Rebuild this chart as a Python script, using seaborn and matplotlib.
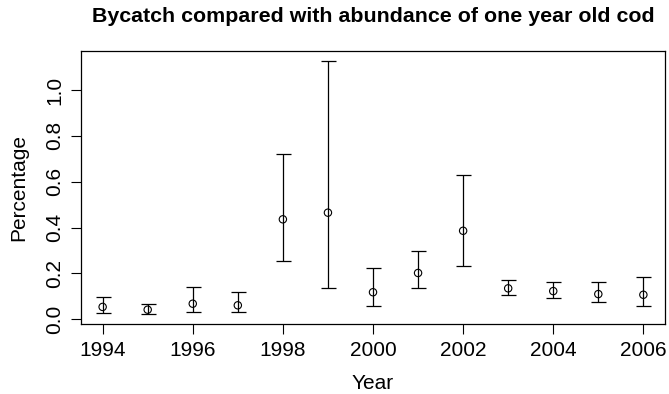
import matplotlib
matplotlib.use("Agg")
import matplotlib.pyplot as plt
import seaborn as sns
import pandas as pd
import numpy as np

years = [1994, 1995, 1996, 1997, 1998, 1999, 2000, 2001, 2002, 2003, 2004, 2005, 2006]
estimate = [0.054, 0.042, 0.068, 0.061, 0.436, 0.465, 0.118, 0.202, 0.386, 0.135, 0.123, 0.110, 0.107]
lower = [0.026, 0.023, 0.033, 0.030, 0.253, 0.136, 0.057, 0.136, 0.232, 0.105, 0.092, 0.074, 0.059]
upper = [0.098, 0.068, 0.139, 0.120, 0.719, 1.127, 0.224, 0.296, 0.630, 0.170, 0.164, 0.164, 0.186]
xticks = [1994, 1996, 1998, 2000, 2002, 2004, 2006]
yticks = [0.0, 0.2, 0.4, 0.6, 0.8, 1.0]

df = pd.DataFrame({"Year": years, "Percentage": estimate, "lo": lower, "hi": upper})

sns.set_theme(style="white")
plt.rcParams["font.family"] = ["Liberation Sans", "DejaVu Sans"]
plt.rcParams["text.color"] = "black"

fig = plt.figure(figsize=(6.69, 3.94), dpi=100)
ax = fig.add_axes([81/669, 1-324/394, (665-81)/669, (324-51)/394])

ax.errorbar(df["Year"], df["Percentage"],
            yerr=[df["Percentage"] - df["lo"], df["hi"] - df["Percentage"]],
            fmt="none", ecolor="black", elinewidth=0.9, capsize=5.4, capthick=0.9)
sns.scatterplot(data=df, x="Year", y="Percentage", ax=ax, marker="o",
                facecolor="none", edgecolor="black", linewidth=0.8, s=28, zorder=3)

ax.set_xlim(1993.52, 2006.48)
ax.set_ylim(-0.0205, 1.170)
ax.set_xticks(xticks)
ax.set_xticklabels([str(t) for t in xticks])
ax.set_yticks(yticks)
ax.set_yticklabels([f"{t:.1f}" for t in yticks], rotation=90, va="center")
ax.tick_params(axis="both", direction="out", length=7, width=0.8, color="black",
               labelsize=15, pad=5, bottom=True, left=True, labelcolor="black")

for s in ax.spines.values():
    s.set_color("black")
    s.set_linewidth(0.9)

ax.set_xlabel("Year", fontsize=15, labelpad=10, color="black")
ax.set_ylabel("Percentage", fontsize=15, labelpad=12, color="black")
fig.suptitle("Bycatch compared with abundance of one year old cod",
             x=(81+665)/2/669, y=1-16/394, fontsize=15.4, fontweight="bold",
             va="center", color="black")

fig.savefig("out.png", dpi=100)
